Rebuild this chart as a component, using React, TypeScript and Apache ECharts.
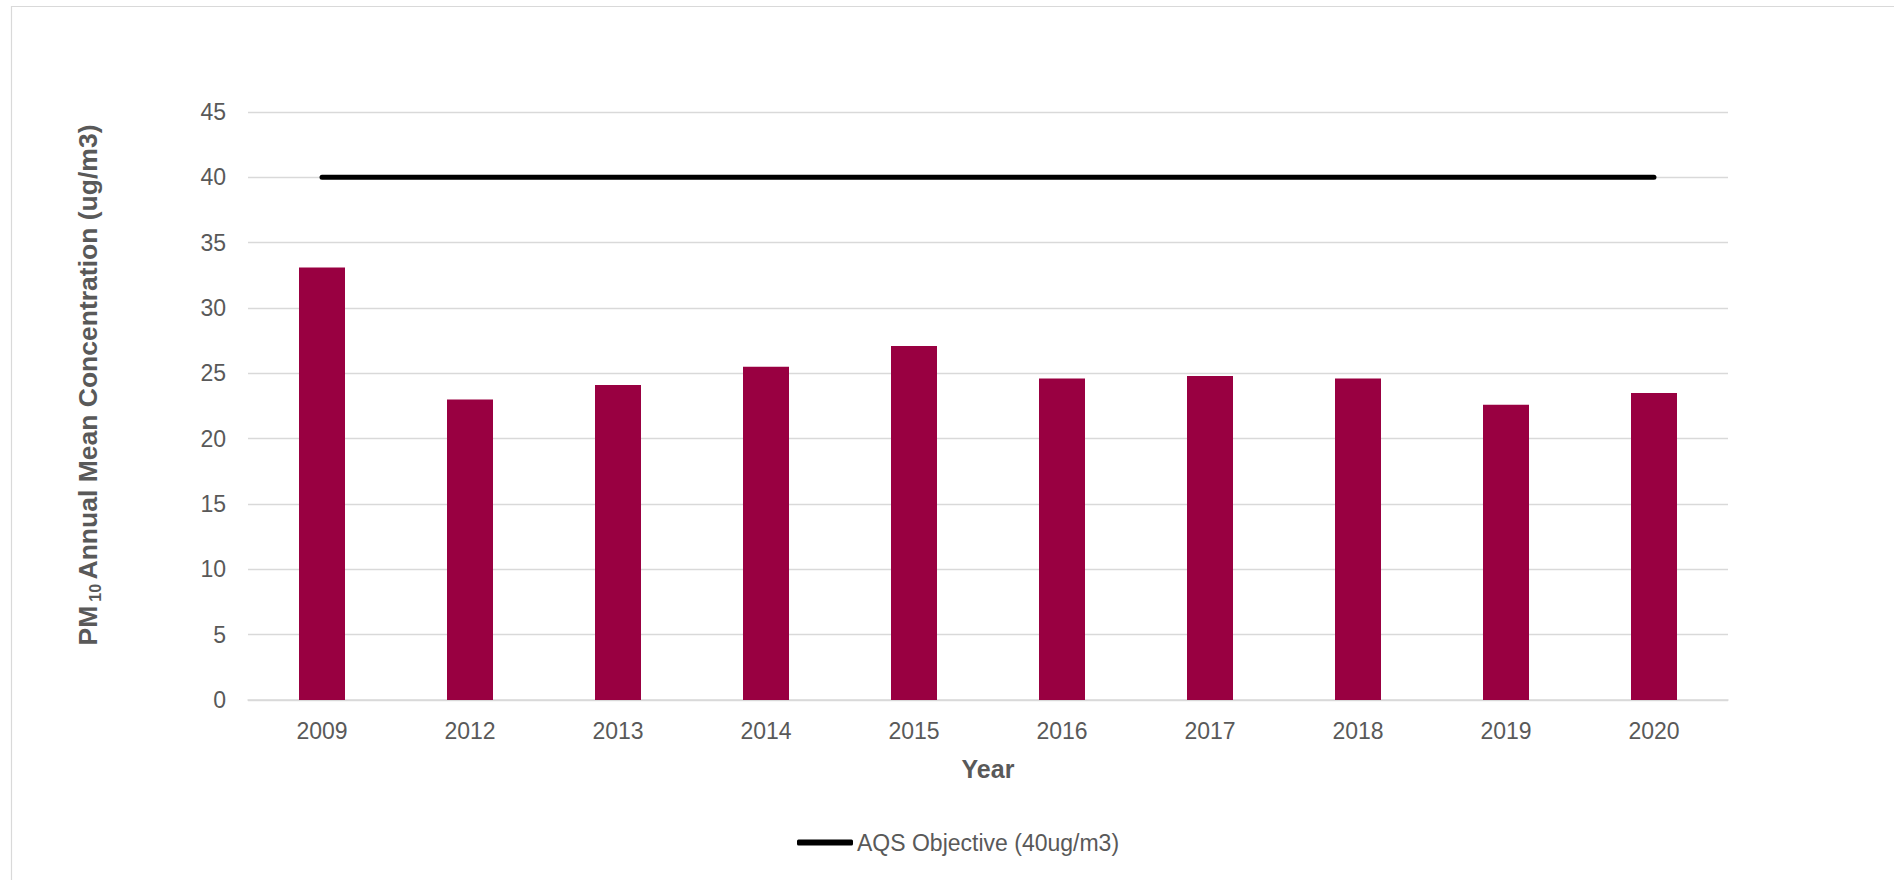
import React, { useEffect, useRef } from "react";
import * as echarts from "echarts";

const years = ["2009", "2012", "2013", "2014", "2015", "2016", "2017", "2018", "2019", "2020"];
const pm10Values = [33.1, 23.0, 24.1, 25.5, 27.1, 24.6, 24.8, 24.6, 22.6, 23.5];
const aqsObjective = [40, 40, 40, 40, 40, 40, 40, 40, 40, 40];
const objectiveName = "AQS Objective (40ug/m3)";

const FONT = "'Liberation Sans', Arial, Helvetica, sans-serif";
const TEXT = "#595959";
const GRID = "#d9d9d9";

export default function App() {
  const ref = useRef<HTMLDivElement>(null);

  useEffect(() => {
    if (!ref.current) return;
    const chart = echarts.init(ref.current, null, { renderer: "svg" });
    chart.setOption({
      animation: false,
      backgroundColor: "#ffffff",
      textStyle: { fontFamily: FONT },
      grid: { left: 248, top: 112, width: 1480, height: 588, containLabel: false },
      legend: {
        data: [objectiveName],
        left: 797,
        top: 831,
        padding: 0,
        icon: "roundRect",
        itemWidth: 56,
        itemHeight: 6,
        itemGap: 10,
        textStyle: { color: TEXT, fontSize: 23, fontFamily: FONT, padding: [0, 0, 0, -1] },
      },
      xAxis: {
        type: "category",
        data: years,
        axisTick: { show: false },
        axisLine: { lineStyle: { color: GRID, width: 1.5 } },
        axisLabel: { color: TEXT, fontSize: 23, fontFamily: FONT, margin: 19 },
        name: "Year",
        nameLocation: "middle",
        nameGap: 56,
        nameTextStyle: { color: TEXT, fontSize: 25, fontWeight: "bold", fontFamily: FONT },
      },
      yAxis: {
        type: "value",
        min: 0,
        max: 45,
        interval: 5,
        axisLine: { show: false },
        axisTick: { show: false },
        axisLabel: { color: TEXT, fontSize: 23, fontFamily: FONT, margin: 22 },
        splitLine: { lineStyle: { color: GRID, width: 1.3 } },
      },
      graphic: [
        {
          type: "rect",
          silent: true,
          shape: { x: 11.5, y: 6.5, width: 2400, height: 1400 },
          style: { fill: "none", stroke: GRID, lineWidth: 1.2 },
          z: -1,
        },
        {
          type: "text",
          x: 88,
          y: 385,
          rotation: Math.PI / 2,
          style: {
            text: "{b|PM}{s|10 }{b|Annual Mean Concentration (ug/m3)}",
            align: "center",
            verticalAlign: "middle",
            fill: TEXT,
            rich: {
              b: { fontSize: 26.5, fontWeight: "bold", fontFamily: FONT, fill: TEXT, verticalAlign: "middle", lineHeight: 30 },
              s: { fontSize: 16, fontWeight: "bold", fontFamily: FONT, fill: TEXT, verticalAlign: "bottom", padding: [0, 0, 0, 4] },
            },
          },
        },
      ],
      series: [
        {
          name: "PM10",
          type: "bar",
          data: pm10Values,
          barWidth: 46,
          itemStyle: { color: "#990041" },
          z: 2,
        },
        {
          name: objectiveName,
          type: "line",
          data: aqsObjective,
          symbol: "none",
          showSymbol: false,
          lineStyle: { color: "#000000", width: 5, cap: "round" },
          itemStyle: { color: "#000000" },
          z: 3,
        },
      ],
    });
    return () => chart.dispose();
  }, []);

  return (
    <div
      ref={ref}
      style={{ position: "fixed", left: 0, top: 0, width: 1894, height: 880, background: "#fff" }}
    />
  );
}
